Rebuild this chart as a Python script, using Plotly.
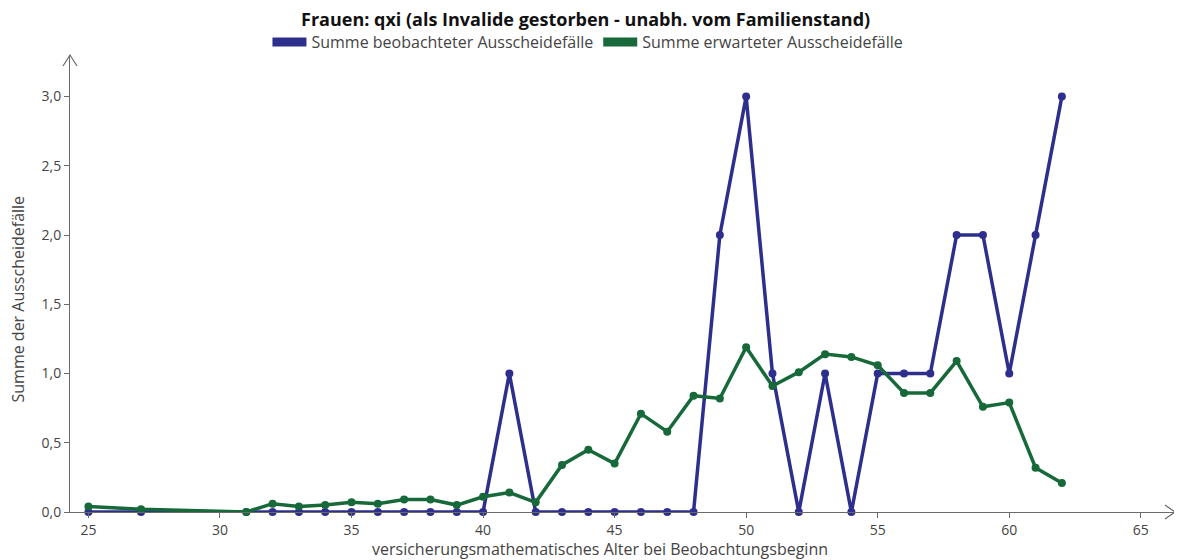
import plotly.graph_objects as go

ages = [25, 27, 31, 32, 33, 34, 35, 36, 37, 38, 39, 40, 41, 42, 43, 44, 45, 46, 47,
        48, 49, 50, 51, 52, 53, 54, 55, 56, 57, 58, 59, 60, 61, 62]
beobachtet = [0, 0, 0, 0, 0, 0, 0, 0, 0, 0, 0, 0, 1, 0, 0, 0, 0, 0, 0,
              0, 2, 3, 1, 0, 1, 0, 1, 1, 1, 2, 2, 1, 2, 3]
erwartet = [0.04, 0.02, 0.0, 0.06, 0.04, 0.05, 0.07, 0.06, 0.09, 0.09, 0.05, 0.11, 0.14, 0.07,
            0.34, 0.45, 0.35, 0.71, 0.58, 0.84, 0.82, 1.19, 0.91, 1.01, 1.14, 1.12, 1.06,
            0.86, 0.86, 1.09, 0.76, 0.79, 0.32, 0.21]

x_ticks = [25, 30, 35, 40, 45, 50, 55, 60, 65]
y_ticks = [0.0, 0.5, 1.0, 1.5, 2.0, 2.5, 3.0]

BLUE = "#2e2f8c"
GREEN = "#17693a"
AXIS = "#6a6a6a"
FONT = "'Open Sans', sans-serif"
TXT = "#444"

fig = go.Figure()
fig.add_trace(go.Scatter(x=ages, y=beobachtet, mode="lines+markers",
                         line=dict(color=BLUE, width=3.5), marker=dict(color=BLUE, size=8),
                         showlegend=False, cliponaxis=False))
fig.add_trace(go.Scatter(x=ages, y=erwartet, mode="lines+markers",
                         line=dict(color=GREEN, width=3.5), marker=dict(color=GREEN, size=8),
                         showlegend=False, cliponaxis=False))
# legend entries (thick bars)
fig.add_trace(go.Scatter(x=[None], y=[None], mode="lines", name="Summe beobachteter Ausscheidefälle",
                         line=dict(color=BLUE, width=9)))
fig.add_trace(go.Scatter(x=[None], y=[None], mode="lines", name="Summe erwarteter Ausscheidefälle",
                         line=dict(color=GREEN, width=9)))

# page has an 8px body margin, so the figure is sized/placed to compensate
FW, FH = 1174, 552
ML, MR, MT, MB = 62, 7, 47, 48
W, H = FW - ML - MR, FH - MT - MB
fig.update_layout(
    width=FW, height=FH,
    margin=dict(l=ML, r=MR, t=MT, b=MB, autoexpand=False),
    paper_bgcolor="white", plot_bgcolor="white",
    separators=",.",
    font=dict(family=FONT, size=14, color=TXT),
    legend=dict(orientation="h", xref="container", x=0.494, xanchor="center",
                y=1 - 34 / FH, yanchor="middle",
                yref="container", font=dict(size=16, color=TXT), itemwidth=34,
                tracegroupgap=0),
    xaxis=dict(range=[24.3, 66.3], tickvals=x_ticks, showgrid=False, zeroline=False,
               showline=True, linecolor=AXIS, linewidth=1, ticks="outside", ticklen=5,
               tickcolor=AXIS, tickfont=dict(size=14, color=TXT), automargin=False),
    yaxis=dict(range=[0, 3.3], tickvals=y_ticks, tickformat=".1f", showgrid=False, zeroline=False,
               showline=True, linecolor=AXIS, linewidth=1, ticks="outside", ticklen=5,
               tickcolor=AXIS, tickfont=dict(size=14, color=TXT), automargin=False),
)

# title as annotation
fig.add_annotation(text="<b>Frauen: qxi (als Invalide gestorben - unabh. vom Familienstand)</b>",
                   xref="paper", yref="paper", x=(0.4915 * FW - ML) / W, y=1, yshift=MT - 11,
                   xanchor="center", yanchor="middle", showarrow=False,
                   font=dict(family=FONT, size=18, color="#111"))
fig.add_annotation(text="versicherungsmathematisches Alter bei Beobachtungsbeginn",
                   xref="paper", yref="paper", x=0.5, y=0, yshift=-37, xshift=-23,
                   showarrow=False, font=dict(size=16, color=TXT), yanchor="middle")
fig.add_annotation(text="Summe der Ausscheidefälle", textangle=-90,
                   xref="paper", yref="paper", x=0, y=0.5, xshift=-53, yshift=-16,
                   showarrow=False, font=dict(size=16, color=TXT), xanchor="center")

# axis arrow heads
dx, dy = 10 / W, 7 / H
fig.add_shape(type="path", xref="paper", yref="paper",
              path=f"M {1-dx} {dy} L 1 0 L {1-dx} {-dy}",
              line=dict(color=AXIS, width=1.2))
dx2, dy2 = 7 / W, 11 / H
fig.add_shape(type="path", xref="paper", yref="paper",
              path=f"M {-dx2} {1-dy2} L 0 1 L {dx2} {1-dy2}",
              line=dict(color=AXIS, width=1.2))

fig.write_html("out.html")
